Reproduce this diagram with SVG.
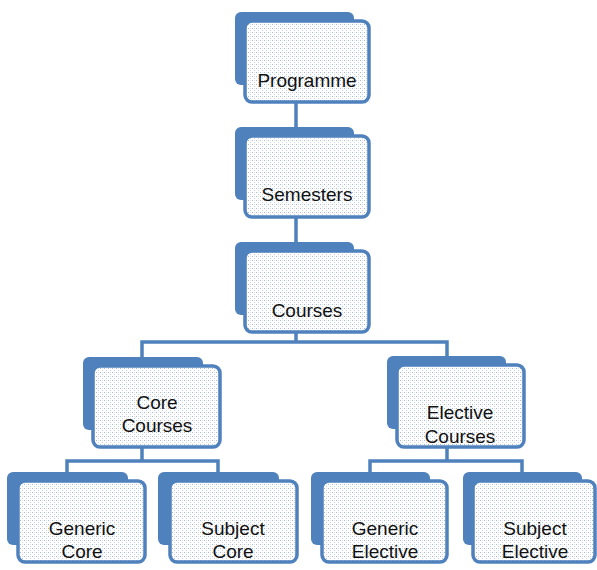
<svg xmlns="http://www.w3.org/2000/svg" width="597" height="570" viewBox="0 0 597 570">
<defs>
<pattern id="dots" width="4" height="4" patternUnits="userSpaceOnUse">
<rect width="4" height="4" fill="#ffffff"/>
<rect x="0" y="0" width="1" height="1" fill="#a9b9d0"/>
<rect x="2" y="2" width="1" height="1" fill="#c6d4e8"/>
<rect x="2" y="0" width="1" height="1" fill="#e2e8f2"/>
</pattern>
</defs>
<style>
.back{fill:#4f81bd}
.front{fill:url(#dots);stroke:#4f81bd;stroke-width:3.5}
.lbl{font-family:"Liberation Sans",Arial,sans-serif;font-size:19px;fill:#111;text-anchor:middle}
.conn{fill:none;stroke:#4f81bd;stroke-width:3.5}
</style>
<g id="connectors">
<path class="conn" d="M296 102V127"/>
<path class="conn" d="M296 217V242"/>
<path class="conn" d="M296 332V342M142 357V342H447V356"/>
<path class="conn" d="M142 447V461M67 472V461H218V472"/>
<path class="conn" d="M447 447V461M370 472V461H522V472"/>
</g>
<g id="programme">
<rect class="back" x="235" y="12" width="119" height="73" rx="6"/>
<rect class="front" x="245" y="21" width="124" height="81" rx="7"/>
<text class="lbl" x="307" y="87">Programme</text>
</g>
<g id="semesters">
<rect class="back" x="235" y="127" width="119" height="73" rx="6"/>
<rect class="front" x="245" y="136" width="124" height="81" rx="7"/>
<text class="lbl" x="307" y="201">Semesters</text>
</g>
<g id="courses">
<rect class="back" x="235" y="242" width="119" height="73" rx="6"/>
<rect class="front" x="245" y="251" width="124" height="81" rx="7"/>
<text class="lbl" x="307" y="317">Courses</text>
</g>
<g id="core-courses">
<rect class="back" x="83" y="357" width="120" height="73" rx="6"/>
<rect class="front" x="93" y="366" width="127" height="81" rx="7"/>
<text class="lbl" x="157" y="409">Core</text>
<text class="lbl" x="157" y="432">Courses</text>
</g>
<g id="elective-courses">
<rect class="back" x="387" y="356" width="119" height="73" rx="6"/>
<rect class="front" x="397" y="365" width="127" height="82" rx="7"/>
<text class="lbl" x="460" y="419">Elective</text>
<text class="lbl" x="460" y="443">Courses</text>
</g>
<g id="generic-core">
<rect class="back" x="7" y="472" width="121" height="73" rx="6"/>
<rect class="front" x="18" y="481" width="127" height="81" rx="7"/>
<text class="lbl" x="82" y="535">Generic</text>
<text class="lbl" x="82" y="558">Core</text>
</g>
<g id="subject-core">
<rect class="back" x="158" y="472" width="121" height="73" rx="6"/>
<rect class="front" x="170" y="481" width="127" height="81" rx="7"/>
<text class="lbl" x="233" y="535">Subject</text>
<text class="lbl" x="233" y="558">Core</text>
</g>
<g id="generic-elective">
<rect class="back" x="311" y="472" width="119" height="73" rx="6"/>
<rect class="front" x="322" y="481" width="125" height="81" rx="7"/>
<text class="lbl" x="385" y="535">Generic</text>
<text class="lbl" x="385" y="558">Elective</text>
</g>
<g id="subject-elective">
<rect class="back" x="463" y="472" width="119" height="73" rx="6"/>
<rect class="front" x="473" y="481" width="122" height="81" rx="7"/>
<text class="lbl" x="535" y="535">Subject</text>
<text class="lbl" x="535" y="558">Elective</text>
</g>
</svg>
